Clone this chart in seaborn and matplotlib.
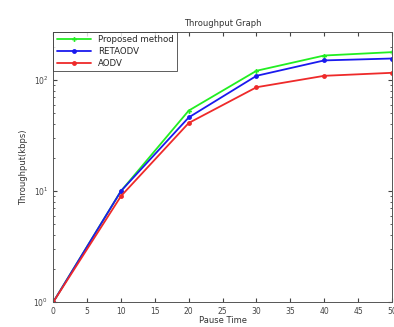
import numpy as np
import pandas as pd
import matplotlib
matplotlib.use("Agg")
import matplotlib.pyplot as plt
import seaborn as sns

# === Data ===
pause_time = [0, 10, 20, 30, 40, 50]
proposed = [1, 10, 53, 121, 166, 178]
retaodv = [1, 10, 46, 109, 150, 156]
aodv = [1, 9, 41, 86, 109, 116]
series_names = ["Proposed method", "RETAODV", "AODV"]
x_ticks = [0, 5, 10, 15, 20, 25, 30, 35, 40, 45, 50]

df = pd.DataFrame({
    "Pause Time": pause_time * 3,
    "Throughput": proposed + retaodv + aodv,
    "Method": [series_names[0]] * 6 + [series_names[1]] * 6 + [series_names[2]] * 6,
})

sns.set_style("ticks")
plt.rcParams["font.family"] = ["DejaVu Sans"]

fig = plt.figure(figsize=(3.94, 3.27), dpi=100)
ax = fig.add_axes([0.135, 0.076, 0.86, 0.826])

palette = {"Proposed method": "#22ee22", "RETAODV": "#1a1aee", "AODV": "#ee2a2a"}
markers = {"Proposed method": "P", "RETAODV": "o", "AODV": "o"}
sns.lineplot(data=df, x="Pause Time", y="Throughput", hue="Method", style="Method",
             palette=palette, markers=markers, dashes=False, markersize=3.5,
             linewidth=1.3, markeredgewidth=0, ax=ax)

ax.set_yscale("log")
ax.set_xlim(0, 50)
ax.set_ylim(1, 270)
ax.set_xticks(x_ticks)
ax.tick_params(which="both", direction="in", top=True, right=True, labelsize=5.5, colors="#444444")
ax.tick_params(which="major", length=3)
ax.tick_params(which="minor", length=1.5)
for s in ax.spines.values():
    s.set_color("#555555")
    s.set_linewidth(0.7)

ax.set_title("Throughput Graph", fontsize=6, color="#333333", pad=4)
ax.set_xlabel("Pause Time", fontsize=6, color="#333333", labelpad=0)
ax.set_ylabel("Throughput(kbps)", fontsize=6, color="#333333", labelpad=4)

leg = ax.legend(loc="upper left", fontsize=6.2, frameon=True, fancybox=False,
                edgecolor="#333333", handlelength=4, borderaxespad=0, borderpad=0.4,
                labelspacing=0.3)
leg.get_frame().set_linewidth(0.7)

fig.savefig("out.png", dpi=100)
